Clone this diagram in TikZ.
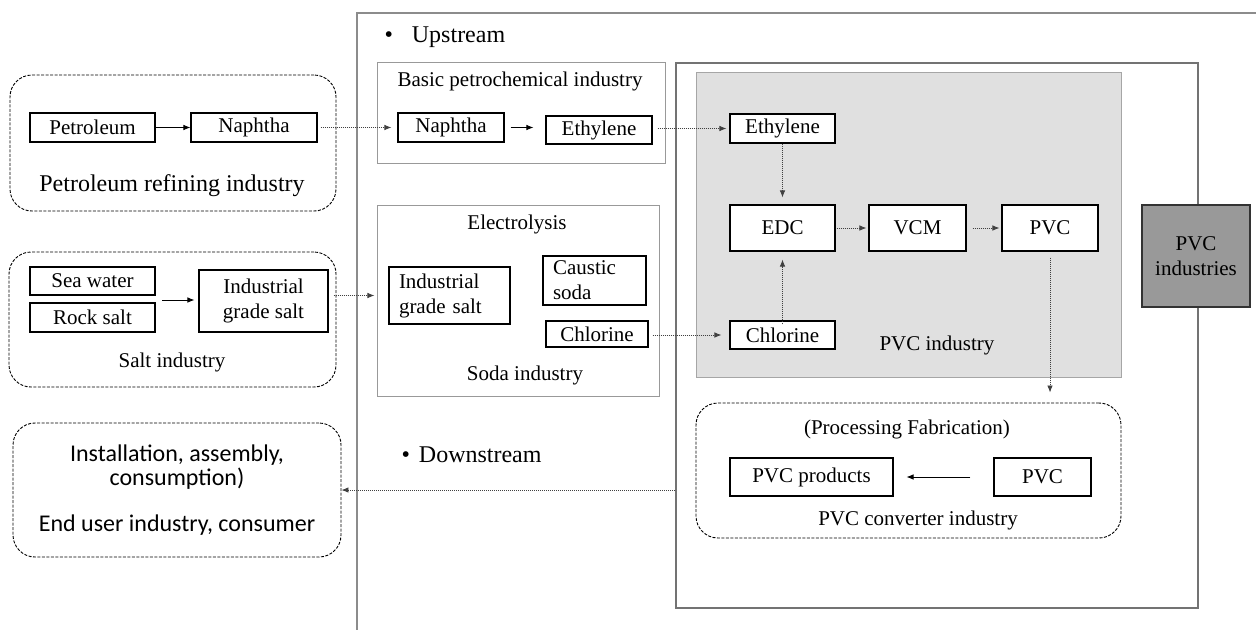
\documentclass[tikz,border=0pt]{standalone}
\usepackage{fontspec}
\setmainfont{Liberation Serif}
\newfontfamily\labelsans{Carlito}
\usetikzlibrary{arrows.meta}

\begin{document}
\begin{tikzpicture}[x=1pt,y=1pt,yscale=-1,
  font=\fontsize{21}{25}\selectfont,
  box/.style={draw,line width=1.1pt,inner sep=0pt,align=center},
  group/.style={draw,dash pattern=on 3pt off 1.5pt,line width=0.9pt,rounded corners=22pt,inner sep=0pt},
  sector/.style={draw=black!40,line width=1pt,inner sep=0pt},
  flow/.style={-{Latex[length=7pt,width=5.5pt]},line width=0.8pt},
  link/.style={flow,draw=black!75,dash pattern=on 1.2pt off 0.8pt}]
\useasboundingbox (0,0) rectangle (1256,630);

%Straight Lines (upstream frame)
\draw [black!45,line width=1.2pt] (1256,13) -- (357,13) -- (357,630);

% Text Node
\node (upstream) [anchor=west,font=\fontsize{24}{26}\selectfont] at (381,37) {\textbullet\hspace{19pt}Upstream};
% Text Node
\node (downstream) [anchor=west,font=\fontsize{24}{26}\selectfont] at (398,455) {\textbullet\hspace{9pt}Downstream};

%Shape: Rectangle (PVC industries frame)
\node (pvcframe) [draw=black!55,line width=2.2pt,minimum width=522pt,minimum height=545pt] at (937,335.5) {};
%Shape: Rectangle (PVC industry)
\node (pvcarea) [draw=black!35,fill=black!12,line width=1pt,minimum width=425pt,minimum height=305pt] at (908.5,224.5) {};
% Text Node
\node (pvcarealabel) at (937,345) {PVC industry};

%Shape: Rectangle
\node (pvcind) [box,fill=black!40,draw=black!80,minimum width=108pt,minimum height=102pt] at (1196,256) {PVC\\industries};

%Shape: Rounded Rect (petroleum refining)
\node (petro) [group,minimum width=326pt,minimum height=136pt] at (173,143) {};
\node (petroleum) [box,minimum width=125pt,minimum height=29pt] at (92.5,127.5) {Petroleum};
\node (naphthaA) [box,minimum width=126pt,minimum height=29pt] at (254,127.5) {Naphtha};
\node (petrolabel) [font=\fontsize{24}{26}\selectfont] at (172,186) {Petroleum refining industry};

%Shape: Rounded Rect (salt)
\node (salt) [group,minimum width=327pt,minimum height=135pt] at (172.5,319.5) {};
\node (seawater) [box,minimum width=125pt,minimum height=28pt] at (92.5,281) {Sea water};
\node (rocksalt) [box,minimum width=125pt,minimum height=29pt] at (92.5,317.5) {Rock salt};
\node (igsaltA) [box,minimum width=129pt,minimum height=62pt] at (263.5,301) {Industrial\\grade salt};
\node (saltlabel) at (172,362) {Salt industry};
\coordinate (saltin) at (162,300);

%Shape: Rounded Rect (end user)
\node (enduser) [group,minimum width=328pt,minimum height=134pt,font=\labelsans\fontsize{24}{24}\selectfont,align=center] at (177,490)
  {Installation, assembly,\\consumption)\\[22pt]End user industry, consumer};

%Shape: Rectangle (basic petrochemical)
\node (basic) [sector,minimum width=288pt,minimum height=101pt] at (521,112.5) {};
\node (basiclabel) at (520,81) {Basic petrochemical industry};
\node (naphthaB) [box,minimum width=106pt,minimum height=29pt] at (451,127.5) {Naphtha};
\node (ethyleneA) [box,minimum width=106pt,minimum height=28pt] at (599,130) {Ethylene};

%Shape: Rectangle (soda)
\node (soda) [sector,minimum width=282pt,minimum height=191pt] at (518,300.5) {};
\node (electrolysis) at (517,224) {Electrolysis};
\node (igsaltB) [box,align=left,text width=101pt,minimum width=121pt,minimum height=57pt] at (449.5,295.5) {Industrial\\grade salt};
\node (caustic) [box,align=left,text width=83pt,minimum width=103pt,minimum height=49pt] at (594.5,280.5) {Caustic\\soda};
\node (chlorineA) [box,minimum width=102pt,minimum height=26pt] at (597,334) {Chlorine};
\node (sodalabel) at (525,375) {Soda industry};

% PVC chain
\node (ethyleneB) [box,fill=white,minimum width=105pt,minimum height=29pt] at (782.5,128.5) {Ethylene};
\node (edc) [box,fill=white,minimum width=105pt,minimum height=46pt] at (782.5,228) {EDC};
\node (vcm) [box,fill=white,minimum width=97pt,minimum height=46pt] at (917.5,228) {VCM};
\node (pvcA) [box,fill=white,minimum width=96pt,minimum height=46pt] at (1050,228) {PVC};
\node (chlorineB) [box,fill=white,minimum width=105pt,minimum height=28pt] at (782.5,335) {Chlorine};

%Shape: Rounded Rect (converter)
\node (conv) [group,minimum width=425pt,minimum height=135pt] at (908.5,470.5) {};
\node (convtop) at (907,429) {(Processing Fabrication)};
\node (products) [box,minimum width=163pt,minimum height=38pt] at (811.5,477) {PVC products};
\node (pvcB) [box,minimum width=97pt,minimum height=38pt] at (1042.5,477) {PVC};
\node (convlabel) at (918,520) {PVC converter industry};
\coordinate (dsout) at (pvcframe.west |- enduser.east);

%Straight Lines (arrows)
\draw [flow] (petroleum) -- (naphthaA);
\draw [link,shorten <=3pt,shorten >=6pt] (naphthaA) -- (naphthaB);
\draw [flow,shorten <=6pt,shorten >=12pt] (naphthaB.east) -- (naphthaB.east -| ethyleneA.west);
\draw [link,shorten <=5pt,shorten >=3pt] (ethyleneA.east |- ethyleneB.west) -- (ethyleneB.west);
\draw [flow,shorten >=4pt] (saltin) -- (saltin -| igsaltA.west);
\draw [link,shorten <=5pt,shorten >=14pt] (igsaltA.east |- igsaltB.west) -- (igsaltB.west);
\draw [link,shorten <=4pt,shorten >=8pt] (chlorineA.east |- chlorineB.west) -- (chlorineB.west);
\draw [link,shorten >=7pt] (ethyleneB) -- (edc);
\draw [link,shorten <=-4pt,shorten >=8pt] (chlorineB) -- (edc);
\draw [link,shorten <=1pt,shorten >=2pt] (edc) -- (vcm);
\draw [link,shorten <=6pt,shorten >=2pt] (vcm) -- (pvcA);
\draw [link,shorten <=6pt,shorten >=10pt] (pvcA.south) -- (pvcA.south |- conv.north);
\draw [flow,line width=0.7pt,shorten <=23pt,shorten >=13pt] (pvcB) -- (products);
\draw [link] (dsout) -- (enduser.east);

\end{tikzpicture}
\end{document}
